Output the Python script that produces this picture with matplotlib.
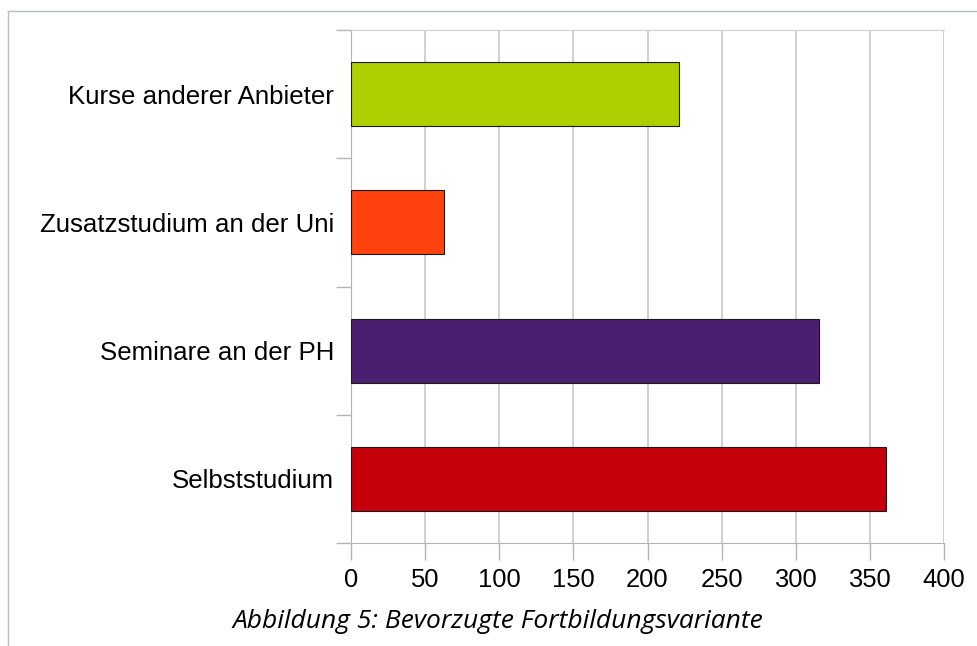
import matplotlib
matplotlib.use("Agg")
import matplotlib.pyplot as plt
from matplotlib.lines import Line2D

# data, bottom to top as in the chart
categories = ["Selbststudium", "Seminare an der PH", "Zusatzstudium an der Uni", "Kurse anderer Anbieter"]
values = [361, 316, 63, 221]
colors = ["#c5000b", "#4b1f6f", "#ff420e", "#aecf00"]
xticks = [0, 50, 100, 150, 200, 250, 300, 350, 400]
caption = "Abbildung 5: Bevorzugte Fortbildungsvariante"

plt.rcParams['font.family'] = ['Liberation Sans', 'DejaVu Sans']

fig = plt.figure(figsize=(9.78, 6.46), dpi=100)
ax = fig.add_axes([351 / 978, 1 - 543 / 646, (944 - 351) / 978, (543 - 30) / 646])

y = list(range(len(categories)))
ax.barh(y, values, height=0.5, color=colors, edgecolor="#1a1a1a", linewidth=0.8, zorder=3)

ax.set_xlim(0, 400)
ax.set_ylim(-0.5, len(categories) - 0.5)
ax.set_xticks(xticks)
ax.set_xticklabels([str(v) for v in xticks], fontsize=18.4)
ax.set_yticks(y)
ax.set_yticklabels(categories, fontsize=18.6)

# category boundary ticks
ax.set_yticks([i - 0.5 for i in range(len(categories) + 1)], minor=True)
ax.tick_params(axis="y", which="major", length=0, pad=12)
ax.tick_params(axis="y", which="minor", length=11, color="#b3b3b3", width=1)
ax.tick_params(axis="x", length=12, color="#b3b3b3", width=1, pad=6)

ax.grid(axis="x", color="#c8c8c8", linewidth=1.2, zorder=0)
for s in ["left", "bottom"]:
    ax.spines[s].set_color("#b3b3b3")
ax.spines["top"].set_color("#d0d0d0")
ax.spines["right"].set_visible(False)

# outer frame lines (top and left)
fig.add_artist(Line2D([8 / 978, 8 / 978], [0, 1 - 11 / 646], transform=fig.transFigure, color="#b4bccc", linewidth=1))
fig.add_artist(Line2D([8 / 978, 1], [1 - 11 / 646, 1 - 11 / 646], transform=fig.transFigure, color="#b4bccc", linewidth=1))

fig.text(498 / 978, 1 - 622 / 646, caption, ha="center", va="center", fontsize=19,
         style="italic", family=["Open Sans", "DejaVu Sans"])

fig.savefig("out.png", dpi=100)
